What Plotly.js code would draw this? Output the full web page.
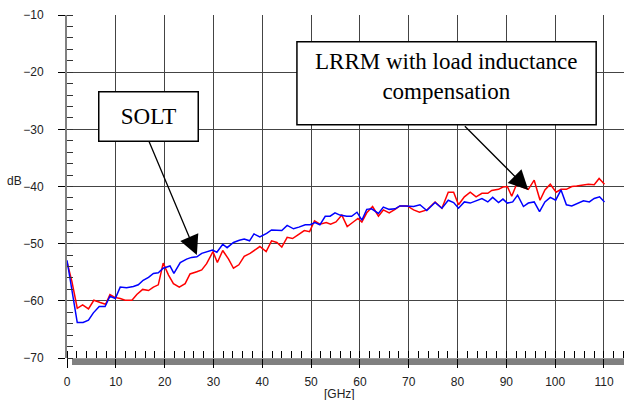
<!DOCTYPE html>
<html>
<head>
<meta charset="utf-8">
<script src="https://cdn.plot.ly/plotly-3.0.1.min.js"></script>
<style>html,body{margin:0;padding:0;background:#fff;}#chart{width:624px;height:400px;}</style>
</head>
<body>
<div id="chart"></div>
<script>
// LRRM with load inductance compensation (red)
var lrrmFreq = [0, 1.0, 2.1, 3.2, 4.4, 5.5, 6.8, 7.9, 8.8, 9.8, 10.9, 11.9, 13.3, 14.3, 15.5, 16.7, 17.7, 18.7, 19.7, 20.8,
  21.8, 23.0, 24.2, 25.2, 26.6, 27.6, 28.6, 29.9, 30.8, 31.9, 33.1, 34.1, 35.2, 36.3, 37.5, 38.5, 39.5, 40.8, 41.9, 43.0,
  44.0, 45.1, 46.2, 47.4, 48.6, 49.7, 50.7, 51.8, 53.1, 54.0, 55.1, 56.3, 57.4, 58.5, 59.6, 60.4, 61.4, 62.6, 63.8, 64.8,
  66.0, 67.2, 68.2, 69.7, 71.0, 72.2, 73.7, 75.4, 76.8, 78.1, 79.2, 80.2, 81.4, 82.6, 83.8, 85.0, 86.2, 87.0, 88.4, 89.3,
  90.2, 91.1, 92.1, 93.3, 94.5, 95.7, 96.9, 97.9, 99.0, 100.2, 101.2, 102.3, 103.4, 104.4, 105.8, 106.8, 108.0, 109.0, 110.1];
var lrrmDb = [-53.2, -56.6, -61.3, -60.7, -61.4, -59.9, -60.3, -60.6, -58.9, -59.4, -59.6, -59.9, -59.9, -58.9, -58.0, -58.2, -57.6, -57.2, -53.4, -55.5,
  -57.0, -57.6, -57.0, -55.3, -54.9, -54.6, -53.5, -51.4, -53.3, -51.2, -52.7, -54.3, -53.7, -52.2, -51.7, -51.1, -50.5, -51.4, -49.5, -49.8,
  -50.6, -48.9, -49.1, -48.4, -47.7, -47.9, -46.0, -46.6, -46.3, -46.6, -46.2, -45.0, -47.0, -46.3, -45.6, -46.2, -44.6, -43.5, -45.2, -44.1,
  -44.6, -44.0, -43.4, -43.4, -44.1, -44.5, -44.1, -42.7, -43.8, -41.0, -41.0, -43.2, -41.8, -41.0, -41.8, -41.2, -41.2, -40.7, -40.5, -40.1,
  -40.0, -41.7, -39.6, -40.1, -40.5, -38.9, -42.4, -40.6, -39.6, -41.0, -40.5, -40.5, -40.0, -39.9, -39.7, -39.6, -39.7, -38.6, -39.6];

// SOLT (blue)
var soltFreq = [0, 2.1, 3.3, 4.4, 5.4, 6.6, 7.8, 8.8, 9.9, 10.9, 12.2, 13.6, 14.6, 15.6, 16.7, 17.7, 18.7, 19.7, 21.1, 21.9,
  23.2, 24.5, 25.5, 26.6, 27.6, 28.6, 29.8, 30.7, 31.9, 32.8, 34.1, 35.3, 36.3, 37.4, 38.3, 39.5, 40.9, 41.9, 44.0, 45.1,
  46.4, 47.5, 48.8, 49.8, 50.8, 51.8, 52.9, 53.9, 54.9, 55.9, 57.3, 58.3, 59.4, 60.4, 61.4, 62.4, 63.8, 64.8, 66.0, 67.2,
  68.2, 69.3, 71.0, 72.3, 73.7, 75.4, 76.8, 78.1, 79.2, 80.2, 81.4, 82.6, 83.8, 85.0, 86.2, 87.2, 88.4, 89.3, 90.2, 91.3,
  92.3, 93.5, 94.5, 95.7, 96.8, 97.9, 99.0, 100.1, 101.2, 102.3, 103.4, 104.6, 105.8, 107.0, 108.0, 109.1, 110.1];
var soltDb = [-52.9, -63.8, -63.8, -63.4, -62.1, -61.0, -61.0, -59.2, -59.6, -57.6, -57.7, -57.5, -57.2, -56.4, -55.9, -55.2, -55.1, -54.3, -53.9, -55.2,
  -53.3, -52.7, -52.4, -52.3, -51.7, -51.4, -51.1, -51.5, -50.1, -50.7, -49.8, -49.4, -49.2, -49.5, -48.3, -48.8, -48.2, -47.6, -47.7, -46.8,
  -47.4, -47.1, -46.7, -46.7, -46.3, -46.7, -45.2, -45.2, -44.6, -45.0, -45.2, -45.2, -44.5, -45.9, -44.0, -43.9, -44.7, -43.6, -44.0, -43.9,
  -43.4, -43.4, -43.5, -43.2, -44.2, -42.8, -43.8, -42.4, -42.8, -43.8, -42.7, -42.9, -42.5, -42.1, -42.7, -41.9, -42.8, -42.2, -42.9, -42.7,
  -41.5, -43.5, -42.9, -42.7, -44.4, -42.7, -41.9, -42.4, -40.6, -43.2, -43.4, -42.9, -42.5, -42.7, -42.1, -41.8, -42.7];

var xTickVals = [0, 10, 20, 30, 40, 50, 60, 70, 80, 90, 100, 110];
var yTickVals = [-70, -60, -50, -40, -30, -20, -10];
var soltLabel = "SOLT";
var lrrmLabel = "LRRM with load inductance<br>compensation";
var xUnit = "[GHz]";
var yUnit = "dB";

var sans = "Liberation Sans";
var serif = "Liberation Serif";

var traces = [
  {x: lrrmFreq, y: lrrmDb, type: "scatter", mode: "lines", line: {color: "#ff0000", width: 1.5}, hoverinfo: "skip"},
  {x: soltFreq, y: soltDb, type: "scatter", mode: "lines", line: {color: "#0000ff", width: 1.5}, hoverinfo: "skip"}
];

var layout = {
  width: 624, height: 400,
  margin: {l: 67, r: 0, t: 15, b: 42, pad: 0},
  paper_bgcolor: "#fff", plot_bgcolor: "#fff",
  showlegend: false,
  font: {family: sans},
  xaxis: {
    range: [0, 114.1], tickmode: "array", tickvals: xTickVals,
    showgrid: true, gridcolor: "#444", gridwidth: 1, zeroline: false, showline: false,
    ticks: "outside", ticklen: 9, tickcolor: "#000", tickwidth: 1,
    ticklabelstandoff: 4,
    tickfont: {family: sans, size: 12, color: "#222"},
    minor: {dtick: 2, tick0: 0, ticks: "inside", ticklen: 7, tickcolor: "#000", tickwidth: 1, showgrid: false}
  },
  yaxis: {
    range: [-70, -10], tickmode: "array", tickvals: yTickVals,
    showgrid: true, gridcolor: "#444", gridwidth: 1, zeroline: false,
    showline: true, linecolor: "#808080", linewidth: 2,
    ticks: "outside", ticklen: 7, tickcolor: "#000", tickwidth: 1,
    ticklabelstandoff: 12,
    tickfont: {family: sans, size: 12, color: "#222"},
    minor: {dtick: 2, tick0: 0, ticks: "inside", ticklen: 6, tickcolor: "#333", tickwidth: 1, showgrid: false}
  },
  shapes: [
    {type: "rect", xref: "paper", yref: "paper", x0: 0.009, x1: 1, y0: -0.0204, y1: -0.001,
     fillcolor: "#808080", line: {width: 0}, layer: "below"},
    {type: "rect", xref: "x", yref: "y", x0: 47.1, x1: 108.4, y0: -14.7, y1: -29.2,
     fillcolor: "#fff", line: {color: "#000", width: 1.5}, layer: "above"}
  ],
  annotations: [
    {xref: "x", yref: "y", x: 16.7, y: -27.7, text: soltLabel, showarrow: false,
     font: {family: serif, size: 23, color: "#000"}, bgcolor: "#fff", bordercolor: "#000",
     borderwidth: 1.5, borderpad: 0, width: 98, height: 48, align: "center", valign: "middle"},
    {xref: "x", yref: "y", x: 77.8, y: -20.8, text: lrrmLabel, showarrow: false,
     font: {family: serif, size: 23, color: "#000"}, align: "center"},
    {xref: "x", yref: "y", x: 26.6, y: -52.0, axref: "x", ayref: "y", ax: 16.7, ay: -31.9,
     text: "", showarrow: true, arrowhead: 2, arrowsize: 3, arrowwidth: 1.3, arrowcolor: "#000"},
    {xref: "x", yref: "y", x: 94.5, y: -40.6, axref: "x", ayref: "y", ax: 81.2, ay: -29.2,
     text: "", showarrow: true, arrowhead: 2, arrowsize: 3, arrowwidth: 1.3, arrowcolor: "#000"},
    {xref: "paper", yref: "paper", x: -0.0934, y: 0.516, text: yUnit, showarrow: false,
     xanchor: "center", yanchor: "middle", font: {family: sans, size: 12, color: "#222"}},
    {xref: "paper", yref: "paper", x: 0.49, y: -0.079, text: xUnit, showarrow: false,
     xanchor: "center", yanchor: "top", font: {family: sans, size: 12, color: "#222"}}
  ]
};

Plotly.newPlot("chart", traces, layout, {staticPlot: true, displayModeBar: false});
</script>
</body>
</html>
